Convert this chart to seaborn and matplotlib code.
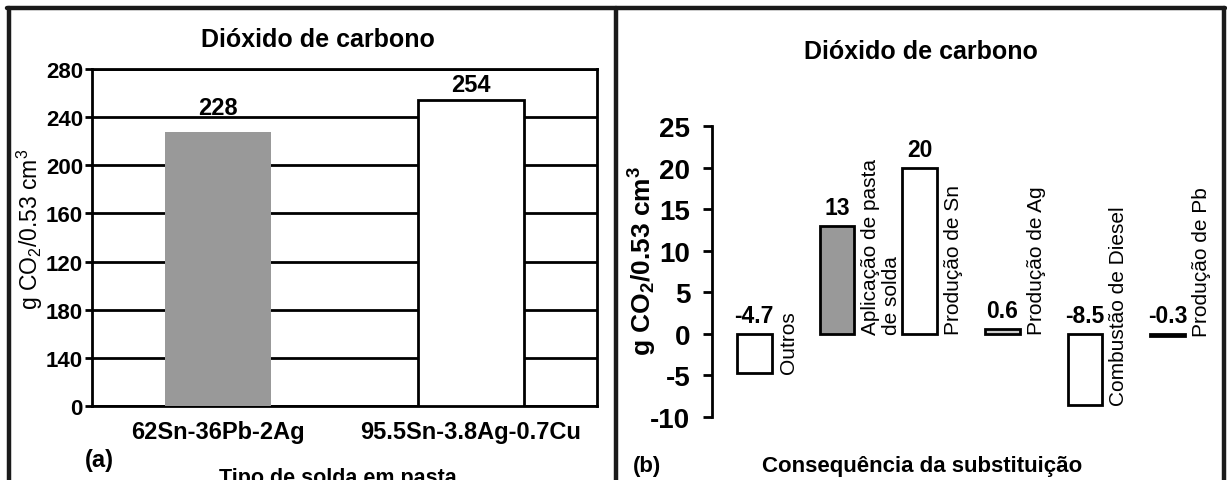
import matplotlib
matplotlib.use('Agg')
import matplotlib.pyplot as plt
import seaborn as sns
from matplotlib.lines import Line2D

# ---- data ----
solders = ['62Sn-36Pb-2Ag', '95.5Sn-3.8Ag-0.7Cu']
solder_values = [228, 254]
left_ticks = [0, 40, 80, 120, 160, 200, 240, 280]
left_tick_labels = ['0', '140', '180', '120', '160', '200', '240', '280']

consequences = ['Outros', 'Aplicação de pasta\nde solda', 'Produção de Sn',
                'Produção de Ag', 'Combustão de Diesel', 'Produção de Pb']
consequence_values = [-4.7, 13, 20, 0.6, -8.5, -0.3]
consequence_labels = ['-4.7', '13', '20', '0.6', '-8.5', '-0.3']
right_ticks = [-10, -5, 0, 5, 10, 15, 20, 25]

sns.set_theme(style='white')
plt.rcParams['font.family'] = ['Liberation Sans', 'DejaVu Sans']
plt.rcParams['mathtext.default'] = 'regular'

W, H = 1227, 481
fig = plt.figure(figsize=(W / 100, H / 100), dpi=100)
fig.patch.set_facecolor('white')


def fx(px):
    return px / W


def fy(py):
    return 1 - py / H


# ---------------- left panel ----------------
axL = fig.add_axes([fx(92), fy(407), fx(597) - fx(92), fy(70) - fy(407)])
sns.barplot(x=solders, y=solder_values, hue=solders,
            palette=['#999999', '#ffffff'], legend=False, width=0.42,
            saturation=1, ax=axL)
for i, p in enumerate(axL.patches):
    if i == 0:
        p.set_edgecolor('none')
        p.set_linewidth(0)
    else:
        p.set_edgecolor('black')
        p.set_linewidth(2)
    p.set_zorder(3)
axL.set_ylim(0, 280)
axL.set_xlim(-0.5, 1.5)
axL.set_yticks(left_ticks)
axL.set_yticklabels(left_tick_labels, fontsize=16, fontweight='bold', color='black')
axL.yaxis.grid(True, color='black', linewidth=2, zorder=0)
axL.xaxis.grid(False)
axL.set_axisbelow(True)
for s in axL.spines.values():
    s.set_visible(True)
    s.set_color('black')
    s.set_linewidth(2)
axL.tick_params(axis='y', left=True, length=5, width=2, pad=1.5, colors='black')
axL.tick_params(axis='x', length=0, pad=10)
for lab in axL.get_xticklabels():
    lab.set_fontsize(17)
    lab.set_fontweight('bold')
    lab.set_color('black')
axL.set_xlabel('')
axL.set_ylabel('')
label_offsets_left = [9, 3]
for i, v in enumerate(solder_values):
    axL.annotate(str(v), (i, v), xytext=(0, label_offsets_left[i]),
                 textcoords='offset points', ha='center', va='bottom',
                 fontsize=17, fontweight='bold', color='black')

fig.text(fx(318), fy(40), 'Dióxido de carbono', ha='center', va='center',
         fontsize=18, fontweight='bold', color='black')
fig.text(fx(30), fy(229), r'g CO$_2$/0.53 cm$^3$', rotation=90, ha='center',
         va='center', fontsize=16.5, color='black')
fig.text(fx(99), fy(461), '(a)', ha='center', va='center', fontsize=17,
         fontweight='bold', color='black')
fig.text(fx(338), fy(468), 'Tipo de solda em pasta', ha='center', va='top',
         fontsize=15.5, fontweight='bold', color='black')

# ---------------- right panel ----------------
axR = fig.add_axes([fx(712), fy(418), fx(1215) - fx(712), fy(127) - fy(418)])
sns.barplot(x=consequences, y=consequence_values, hue=consequences,
            palette=['#ffffff', '#999999', '#ffffff', '#cccccc', '#ffffff', '#cccccc'],
            legend=False, width=0.42, saturation=1, ax=axR)
for p in axR.patches:
    p.set_edgecolor('black')
    p.set_linewidth(2)
axR.set_ylim(-10, 25)
axR.set_xlim(-0.51, 5.57)
axR.set_yticks(right_ticks)
axR.set_yticklabels([str(t) for t in right_ticks], fontsize=20, fontweight='bold',
                    color='black')
axR.set_xticks([])
for name, s in axR.spines.items():
    s.set_visible(name == 'left')
axR.spines['left'].set_color('black')
axR.spines['left'].set_linewidth(2)
axR.tick_params(axis='y', left=True, length=6.5, width=2, pad=9, colors='black')
axR.set_xlabel('')
axR.set_ylabel('')
axR.patch.set_alpha(0)

half = 0.42 / 2
for i, (v, txt, cat) in enumerate(zip(consequence_values, consequence_labels, consequences)):
    top = max(v, 0)
    bottom = min(v, 0)
    axR.annotate(txt, (i, top), xytext=(0, 5), textcoords='offset points',
                 ha='center', va='bottom', fontsize=16.5, fontweight='bold',
                 color='black', annotation_clip=False)
    axR.annotate(cat, (i + half, bottom), xytext=(5, 0), textcoords='offset points',
                 rotation=90, ha='left', va='bottom', fontsize=15,
                 multialignment='left', color='black', linespacing=1.1,
                 annotation_clip=False)

fig.text(fx(921), fy(52), 'Dióxido de carbono', ha='center', va='center',
         fontsize=18, fontweight='bold', color='black')
fig.text(fx(643), fy(261), r'g CO$_2$/0.53 cm$^3$', rotation=90, ha='center',
         va='center', fontsize=19, fontweight='bold', color='black')
fig.text(fx(647), fy(467), '(b)', ha='center', va='center', fontsize=16,
         fontweight='bold', color='black')
fig.text(fx(922), fy(467), 'Consequência da substituição', ha='center', va='center',
         fontsize=16, fontweight='bold', color='black')

# ---------------- panel frames ----------------
lw = 3.2
for x in (8.5, 616, 1223.5):
    fig.add_artist(Line2D([fx(x), fx(x)], [fy(9), fy(485)], transform=fig.transFigure,
                          color='#1a1a1a', linewidth=lw))
fig.add_artist(Line2D([fx(7), fx(1225)], [fy(9), fy(9)], transform=fig.transFigure,
                      color='#1a1a1a', linewidth=lw))

fig.savefig('out.png', dpi=100, facecolor='white')
